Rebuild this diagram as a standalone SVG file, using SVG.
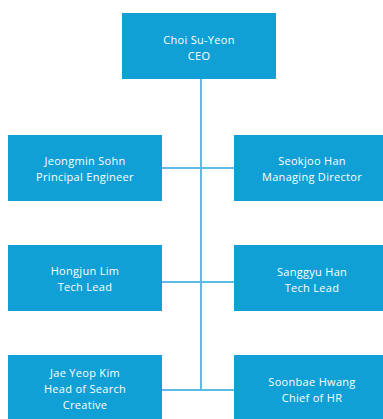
<svg xmlns="http://www.w3.org/2000/svg" width="383" height="419" viewBox="0 0 383 419">
<style>
.box{fill:#10A0D6}
.t{fill:#FFFFFF;font-family:"Open Sans","Liberation Sans",sans-serif;font-size:11px;letter-spacing:0.3px;text-anchor:middle}
.c{stroke:#5BBCE6;stroke-width:2;fill:none}
</style>
<rect width="383" height="419" fill="#FFFFFF"/>
<g id="connectors">
<path class="c" d="M201 79 V390"/>
<path class="c" d="M162 168 H234"/>
<path class="c" d="M162 282 H234"/>
<path class="c" d="M162 390 H234"/>
</g>
<g id="ceo"><rect class="box" x="122" y="13" width="154" height="66"/>
<text class="t" x="199" y="44">Choi Su-Yeon</text><text class="t" x="199" y="60">CEO</text></g>
<g id="sohn"><rect class="box" x="8" y="135" width="154" height="66"/>
<text class="t" x="85" y="165">Jeongmin Sohn</text><text class="t" x="85" y="181">Principal Engineer</text></g>
<g id="seokjoo"><rect class="box" x="234" y="135" width="149" height="66"/>
<text class="t" x="312" y="165">Seokjoo Han</text><text class="t" x="312" y="181">Managing Director</text></g>
<g id="hongjun"><rect class="box" x="8" y="245" width="154" height="66"/>
<text class="t" x="85" y="275">Hongjun Lim</text><text class="t" x="85" y="291">Tech Lead</text></g>
<g id="sanggyu"><rect class="box" x="234" y="245" width="149" height="66"/>
<text class="t" x="312" y="276">Sanggyu Han</text><text class="t" x="312" y="292">Tech Lead</text></g>
<g id="jaeyeop"><rect class="box" x="8" y="355" width="154" height="64"/>
<text class="t" x="85" y="377">Jae Yeop Kim</text><text class="t" x="85" y="393">Head of Search</text><text class="t" x="85" y="409">Creative</text></g>
<g id="soonbae"><rect class="box" x="234" y="355" width="149" height="64"/>
<text class="t" x="312" y="386">Soonbae Hwang</text><text class="t" x="312" y="402">Chief of HR</text></g>
</svg>
